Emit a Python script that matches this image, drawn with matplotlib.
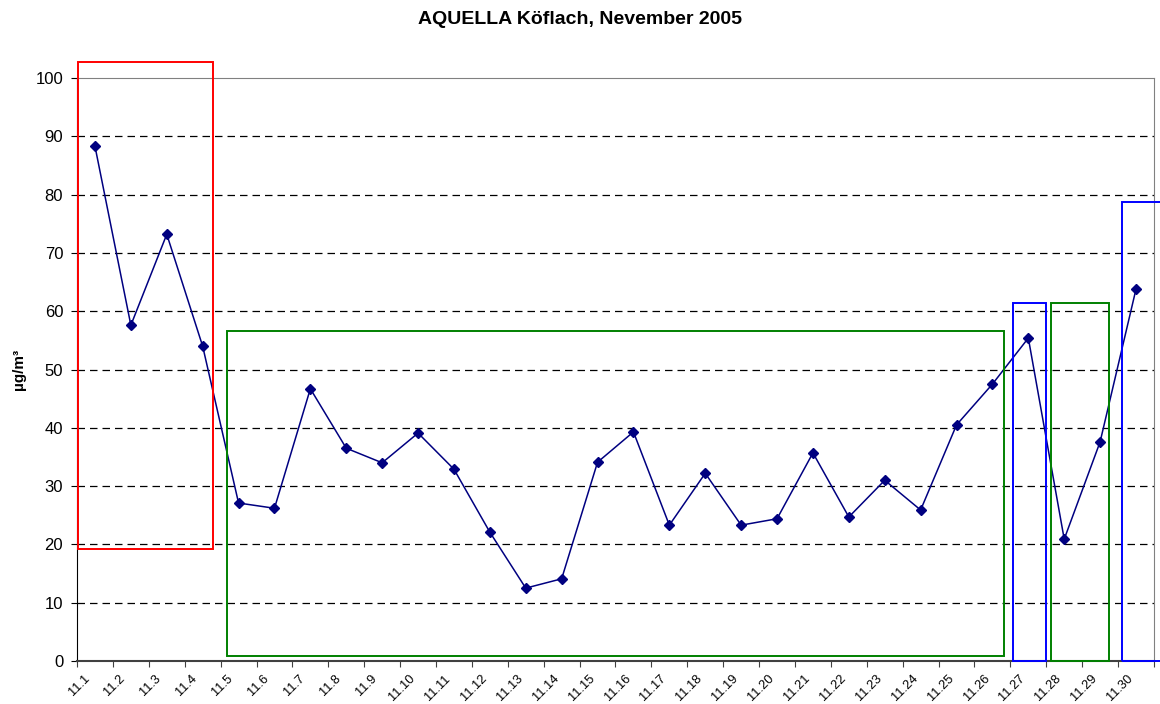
import matplotlib
matplotlib.use("Agg")
import matplotlib.pyplot as plt
import matplotlib.transforms as mtransforms
from matplotlib.patches import Rectangle
import numpy as np

plt.rcParams["font.family"] = ["Liberation Sans", "DejaVu Sans"]

days = [f"11.{d}" for d in range(1, 31)]
pm10 = [88.3, 57.6, 73.2, 54.0, 27.1, 26.2, 46.7, 36.5, 34.0, 39.1,
        32.9, 22.1, 12.5, 14.1, 34.1, 39.3, 23.3, 32.2, 23.3, 24.4,
        35.7, 24.7, 31.0, 25.9, 40.5, 47.5, 55.4, 20.9, 37.6, 63.8]

# highlight boxes: (x0, x1, y0, y1, colour) in category units
boxes = [
    (0.03, 3.79, 19.2, 102.7, "red"),
    (4.18, 25.82, 0.9, 56.6, "green"),
    (26.07, 27.0, 0.0, 61.4, "blue"),
    (27.12, 28.75, 0.0, 61.4, "green"),
    (29.1, 31.5, 0.0, 78.7, "blue"),
]

fig = plt.figure(figsize=(11.6, 7.04), dpi=100)
ax = fig.add_axes([0.0664, 0.0611, 0.9284, 0.8280])

x = np.arange(len(days)) + 0.5
ax.plot(x, pm10, color="#000080", lw=1.1, marker="D", ms=5.5, zorder=3)

for x0, x1, y0, y1, c in boxes:
    ax.add_patch(Rectangle((x0, y0), x1 - x0, y1 - y0, fill=False,
                           edgecolor=c, lw=1.4, clip_on=False, zorder=4))

ax.set_xlim(0, 30)
ax.set_ylim(0, 100)
ax.set_yticks(range(0, 101, 10))
ax.set_xticks(range(0, 31))
ax.set_xticklabels(days + [""], rotation=45, ha="center", fontsize=9.3)
ax.tick_params(axis="x", length=4, pad=4.5, color="#404040")
ax.tick_params(axis="y", length=4, pad=6, labelsize=12)

# nudge the slanted day labels a little to the right, like the original
shift = mtransforms.ScaledTranslation(2 / 100, 0, fig.dpi_scale_trans)
for lab in ax.get_xticklabels():
    lab.set_transform(lab.get_transform() + shift)

for yv in range(10, 100, 10):
    ax.axhline(yv, color="black", lw=0.9, ls=(0, (6, 4)), zorder=1)

ax.spines["left"].set_color("black")
ax.spines["bottom"].set_color("#404040")
ax.spines["bottom"].set_linewidth(1.5)
ax.spines["top"].set_color("#808080")
ax.spines["right"].set_color("#808080")

ax.set_ylabel("µg/m³", fontsize=11, fontweight="bold")
ax.yaxis.set_label_coords(-0.047, 0.5)
fig.suptitle("AQUELLA Köflach, Nevember 2005", fontsize=14,
             fontweight="bold", y=0.985)

fig.savefig("out.png", dpi=100)
